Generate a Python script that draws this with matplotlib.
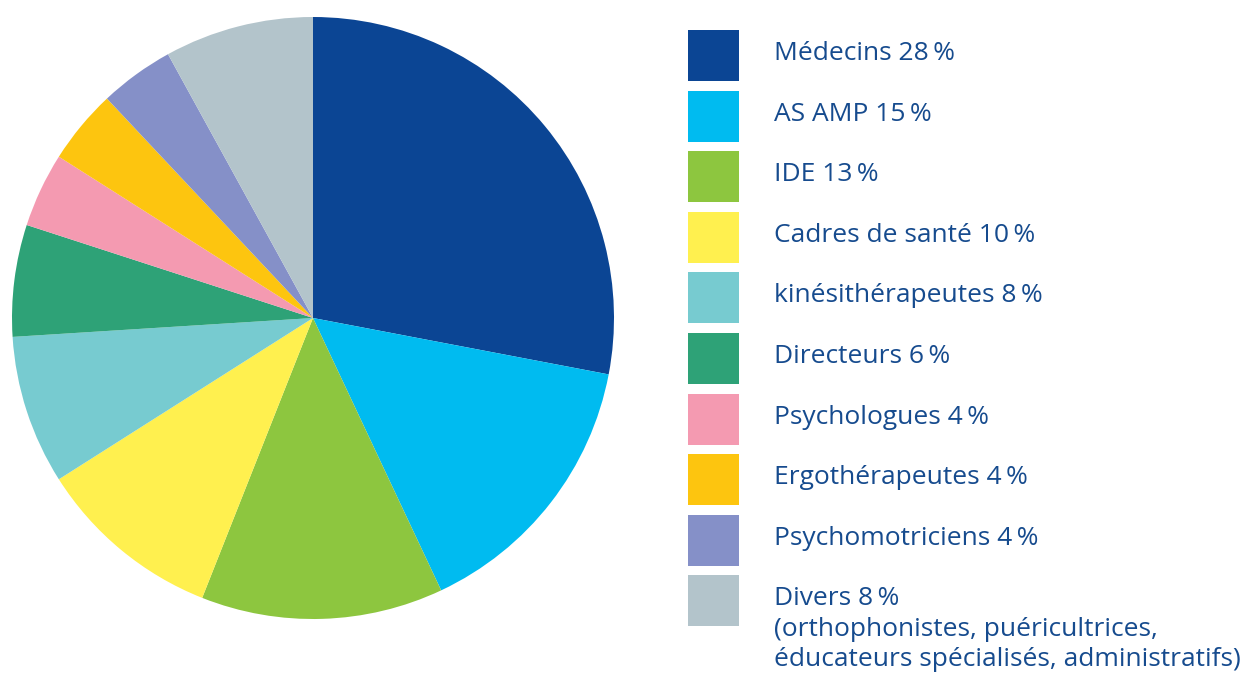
import matplotlib.pyplot as plt
from matplotlib.patches import Rectangle

categories = ['Médecins', 'AS AMP', 'IDE', 'Cadres de santé', 'kinésithérapeutes',
              'Directeurs', 'Psychologues', 'Ergothérapeutes', 'Psychomotriciens', 'Divers']
shares = [28, 15, 13, 10, 8, 6, 4, 4, 4, 8]
extra = {'Divers': '(orthophonistes, puéricultrices,\néducateurs spécialisés, administratifs)'}
colors = ['#0b4594', '#00bbf0', '#8dc63f', '#fff04f', '#77cbd0',
          '#2ea277', '#f49ab1', '#fdc50f', '#8590c8', '#b3c4cb']
text_color = '#164b8e'

W, H = 1247, 675
fig = plt.figure(figsize=(W / 100, H / 100), dpi=100)

# pie centred at (313, 318) px, radius 301 px
cx, cy, r = 313, 318, 301
ax = fig.add_axes([(cx - r) / W, (H - cy - r) / H, 2 * r / W, 2 * r / H])
ax.pie(shares, colors=colors, startangle=90, counterclock=False, radius=1,
       wedgeprops=dict(linewidth=0))
ax.set_xlim(-1, 1)
ax.set_ylim(-1, 1)
ax.set_aspect('equal')
ax.axis('off')

# legend
box_x, box_w, box_h = 688, 51, 51
row_top0, row_step = 30, 60.6
font = ['Open Sans', 'DejaVu Sans']
for i, (cat, val, col) in enumerate(zip(categories, shares, colors)):
    top = row_top0 + i * row_step
    fig.patches.append(Rectangle((box_x / W, 1 - (top + box_h) / H), box_w / W, box_h / H,
                                 transform=fig.transFigure, facecolor=col, edgecolor='none'))
    label = f'{cat} {val}\u2009%'
    if cat in extra:
        label += '\n' + extra[cat]
    fig.text(774 / W, 1 - (top + 11) / H, label, ha='left', va='top', fontsize=19,
             color=text_color, family=font, linespacing=1.27)

fig.savefig('out.png', dpi=100)
